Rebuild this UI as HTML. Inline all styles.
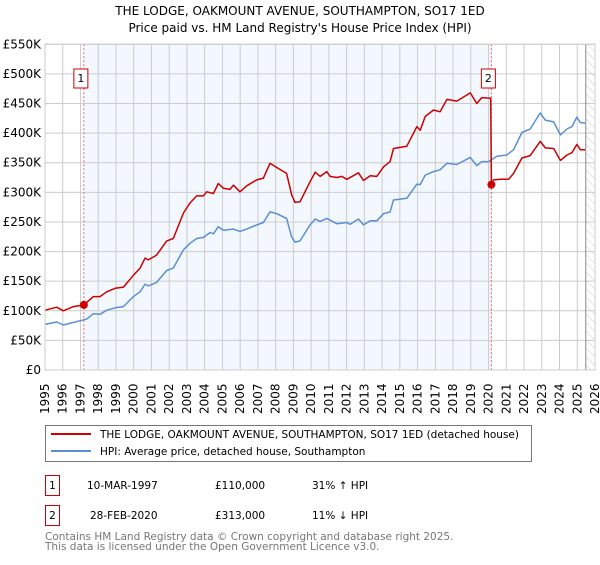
<!DOCTYPE html>
<html><head><meta charset="utf-8"><style>
body{margin:0;background:#fff;}
svg text{font-family:"DejaVu Sans","Liberation Sans",sans-serif;}
</style></head><body>
<svg id="chart" width="600" height="560" viewBox="0 0 600 560" xmlns="http://www.w3.org/2000/svg">
<text x="300" y="15" text-anchor="middle" font-size="12">THE LODGE, OAKMOUNT AVENUE, SOUTHAMPTON, SO17 1ED</text>
<text x="300" y="32" text-anchor="middle" font-size="12">Price paid vs. HM Land Registry's House Price Index (HPI)</text>
<defs><pattern id="hatch" width="6" height="6" patternUnits="userSpaceOnUse" patternTransform="rotate(-45)"><line x1="0" y1="0" x2="0" y2="6" stroke="#ccc" stroke-width="1"/></pattern></defs>
<g id="plot"></g>
<g>
<rect x="45.5" y="425.5" width="486" height="36" fill="#fff" stroke="#777"/>
<line x1="51" y1="434" x2="91" y2="434" stroke="#cc0000" stroke-width="2"/>
<text x="100" y="438" font-size="10.5">THE LODGE, OAKMOUNT AVENUE, SOUTHAMPTON, SO17 1ED (detached house)</text>
<line x1="51" y1="451" x2="91" y2="451" stroke="#5b8fd4" stroke-width="2"/>
<text x="100" y="455" font-size="10.5">HPI: Average price, detached house, Southampton</text>
</g>
<g font-size="10.5">
<rect x="45.5" y="475.5" width="14" height="20" fill="#fff" stroke="#cc0000"/>
<text x="52.5" y="489" text-anchor="middle">1</text>
<text x="87" y="489">10-MAR-1997</text><text x="215" y="489">£110,000</text><text x="312" y="489">31% ↑ HPI</text>
<rect x="45.5" y="505.5" width="14" height="20" fill="#fff" stroke="#cc0000"/>
<text x="52.5" y="519" text-anchor="middle">2</text>
<text x="90" y="519">28-FEB-2020</text><text x="215" y="519">£313,000</text><text x="312" y="519">11% ↓ HPI</text>
</g>
<text x="45" y="540" font-size="10.5" fill="#777">Contains HM Land Registry data © Crown copyright and database right 2025.</text>
<text x="45" y="550" font-size="10.5" fill="#777">This data is licensed under the Open Government Licence v3.0.</text>
</svg>
<script>
const hpiYears=[1995.00,1995.66,1996.03,1997.07,1997.35,1997.72,1998.10,1998.48,1998.95,1999.42,1999.98,2000.36,2000.64,2000.82,2001.29,2001.86,2002.23,2002.80,2003.17,2003.55,2003.93,2004.30,2004.49,2004.77,2005.05,2005.62,2005.99,2006.37,2006.93,2007.31,2007.68,2008.06,2008.62,2008.90,2009.09,2009.37,2009.94,2010.23,2010.51,2010.88,2011.45,2012.01,2012.20,2012.67,2012.95,2013.33,2013.70,2014.08,2014.45,2014.64,2015.39,2015.96,2016.15,2016.43,2016.90,2017.27,2017.65,2018.21,2018.97,2019.34,2019.62,2020.00,2020.47,2021.03,2021.41,2021.88,2022.35,2022.91,2023.20,2023.67,2024.05,2024.42,2024.70,2024.98,2025.17,2025.45];
const hpiValues=[77,81,76,84,86,95,94,101,105,107,124,132,145,142,148,168,172,203,214,222,224,232,230,242,236,238,234,238,245,249,267,264,256,225,216,218,245,255,251,256,247,249,246,255,245,252,252,264,267,287,290,314,313,329,335,338,349,347,359,345,352,352,361,363,372,401,407,434,422,419,397,407,411,427,418,417];
const priceYears=[1995.00,1995.66,1996.03,1996.60,1997.19,1997.72,1998.10,1998.48,1998.95,1999.42,1999.98,2000.36,2000.64,2000.82,2001.29,2001.86,2002.23,2002.80,2003.17,2003.55,2003.93,2004.11,2004.49,2004.77,2005.05,2005.43,2005.62,2005.99,2006.37,2006.93,2007.31,2007.68,2008.06,2008.62,2008.90,2009.09,2009.37,2009.94,2010.23,2010.51,2010.88,2011.07,2011.45,2011.73,2012.01,2012.67,2012.95,2013.33,2013.70,2014.08,2014.45,2014.64,2015.39,2015.96,2016.15,2016.43,2016.90,2017.27,2017.65,2018.21,2018.97,2019.34,2019.62,2020.12,2020.16,2020.28,2020.66,2021.13,2021.41,2021.88,2022.35,2022.91,2023.20,2023.67,2024.05,2024.42,2024.70,2024.98,2025.17,2025.45];
const priceValues=[101,106,100,107,110,124,124,132,138,140,160,172,189,186,194,218,222,265,282,294,294,301,298,315,307,305,312,301,311,321,324,349,342,332,296,283,284,318,334,327,335,327,325,327,322,333,320,328,327,343,352,374,378,411,405,428,439,436,457,454,468,450,460,459,313,321,322,322,332,358,362,386,375,374,354,363,367,381,372,372];
const saleYears=[1997.19,2020.16];
const saleValues=[110,313];
const saleLabels=["1","2"];
const yTicks=[0,50,100,150,200,250,300,350,400,450,500,550];
const yTickLabels=["£0","£50K","£100K","£150K","£200K","£250K","£300K","£350K","£400K","£450K","£500K","£550K"];
const xStart=1995,xEnd=2026,dataEnd=2025.48;

const L=45,R=595,T=44.3,B=370;
const X=y=>L+(y-xStart)/(xEnd-xStart)*(R-L);
const Y=v=>B-v/550*(B-T);
const NS="http://www.w3.org/2000/svg";
const g=document.getElementById('plot');
function mk(tag,attrs,parent){const e=document.createElementNS(NS,tag);for(const k in attrs)e.setAttribute(k,attrs[k]);(parent||g).appendChild(e);return e;}

let bg=mk('rect',{x:L,y:T,width:R-L,height:B-T,fill:'#fff'});


let sh=mk('rect',{x:X(saleYears[0]),y:T,width:X(saleYears[1])-X(saleYears[0]),height:B-T,fill:'#eef3fd',opacity:0.7});


let ht=mk('rect',{x:X(dataEnd),y:T,width:R-X(dataEnd),height:B-T,fill:'url(#hatch)'});



for(let i=0;i<yTicks.length;i++){
  const yy=Y(yTicks[i]);
  const ln=mk('line',{x1:L,x2:R,y1:yy,y2:yy,stroke:'#ccc','stroke-width':1});
  
  
  const t=mk('text',{x:L-4,y:yy+4,'text-anchor':'end','font-size':12});
  
  
  t.textContent=yTickLabels[i];
}
for(let yr=xStart;yr<=xEnd;yr++){
  const xx=X(yr);
  const ln=mk('line',{x1:xx,x2:xx,y1:T,y2:B,stroke:'#ccc','stroke-width':1});
  
  
  const t=mk('text',{x:0,y:0,'font-size':12,transform:`translate(${xx+4},${B+44}) rotate(-90)`});
  
  
  t.textContent=String(yr);
}
const el=mk('line',{x1:X(dataEnd),x2:X(dataEnd),y1:T,y2:B,stroke:'#888','stroke-width':1});



for(let i=0;i<saleYears.length;i++){
  const xx=X(saleYears[i]);
  const d=mk('line',{x1:xx,x2:xx,y1:T,y2:B,stroke:'#e06060','stroke-width':1,'stroke-dasharray':'2,2'});
  
  
}
function path(xs,vs,color,name){
  let d='';for(let i=0;i<xs.length;i++)d+=(i?'L':'M')+X(xs[i]).toFixed(1)+','+Y(vs[i]).toFixed(1);
  const p=mk('path',{d:d,fill:'none',stroke:color,'stroke-width':1.5,'stroke-linejoin':'round'});
  
  
}
path(hpiYears,hpiValues,'#5b8fd4','hpi-line');
path(priceYears,priceValues,'#cc0000','price-paid-line');
for(let i=0;i<saleYears.length;i++){
  const c=mk('circle',{cx:X(saleYears[i]),cy:Y(saleValues[i]),r:4,fill:'#cc0000'});
  
  
  const bx=X(saleYears[i])-10;
  const r=mk('rect',{x:bx,y:69,width:14,height:19,fill:'#fff',stroke:'#cc0000'});
  
  
  const t=mk('text',{x:bx+7,y:82,'text-anchor':'middle','font-size':11});
  
  
  t.textContent=saleLabels[i];
}
const fr=mk('rect',{x:L,y:T,width:R-L,height:B-T,fill:'none',stroke:'#ccc'});


</script>
</body></html>
